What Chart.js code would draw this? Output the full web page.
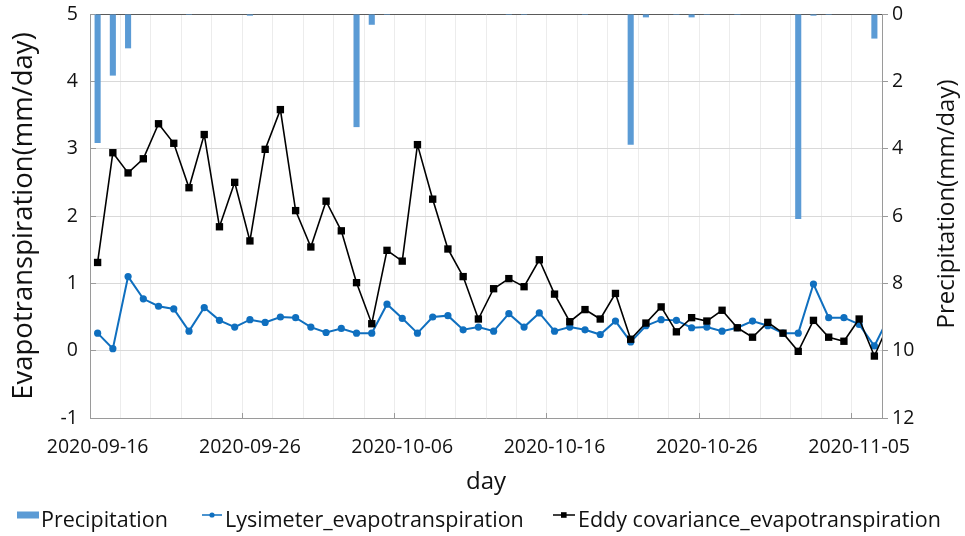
<!DOCTYPE html>
<html>
<head>
<meta charset="utf-8">
<script src="https://cdn.jsdelivr.net/npm/chart.js@4.4.1/dist/chart.umd.min.js"></script>
<style>
html,body{margin:0;padding:0;background:#ffffff;}
#wrap{position:relative;width:965px;height:536px;}
</style>
</head>
<body>
<div id="wrap"><canvas id="c" width="965" height="536"></canvas></div>
<script>
// ---- data ----
const days = [
  '2020-09-16','2020-09-17','2020-09-18','2020-09-19','2020-09-20','2020-09-21','2020-09-22','2020-09-23','2020-09-24','2020-09-25',
  '2020-09-26','2020-09-27','2020-09-28','2020-09-29','2020-09-30','2020-10-01','2020-10-02','2020-10-03','2020-10-04','2020-10-05',
  '2020-10-06','2020-10-07','2020-10-08','2020-10-09','2020-10-10','2020-10-11','2020-10-12','2020-10-13','2020-10-14','2020-10-15',
  '2020-10-16','2020-10-17','2020-10-18','2020-10-19','2020-10-20','2020-10-21','2020-10-22','2020-10-23','2020-10-24','2020-10-25',
  '2020-10-26','2020-10-27','2020-10-28','2020-10-29','2020-10-30','2020-10-31','2020-11-01','2020-11-02','2020-11-03','2020-11-04',
  '2020-11-05','2020-11-06','2020-11-07'
];
const tickLabels = ['2020-09-16','2020-09-26','2020-10-06','2020-10-16','2020-10-26','2020-11-05'];

const precipitation = [
  3.83, 1.83, 1.02, 0, 0, 0, 0.03, 0, 0, 0,
  0.05, 0, 0, 0, 0, 0, 0, 3.36, 0.32, 0.03,
  0, 0, 0, 0, 0, 0, 0, 0.03, 0.03, 0,
  0, 0, 0.03, 0, 0, 3.88, 0.10, 0, 0.03, 0.10,
  0.03, 0, 0.03, 0, 0, 0, 6.09, 0.05, 0.03, 0,
  0, 0.73, 0
];
const lysimeter = [
  0.26, 0.03, 1.10, 0.77, 0.66, 0.62, 0.29, 0.64, 0.45, 0.35,
  0.46, 0.42, 0.50, 0.49, 0.35, 0.27, 0.33, 0.26, 0.26, 0.69,
  0.48, 0.26, 0.50, 0.52, 0.31, 0.35, 0.29, 0.55, 0.35, 0.56,
  0.29, 0.35, 0.31, 0.24, 0.44, 0.13, 0.37, 0.46, 0.45, 0.34,
  0.35, 0.29, 0.34, 0.44, 0.37, 0.26, 0.26, 0.99, 0.49, 0.49,
  0.39, 0.07, 0.52
];
const eddy = [
  1.31, 2.94, 2.64, 2.85, 3.37, 3.08, 2.42, 3.21, 1.84, 2.50,
  1.63, 2.99, 3.58, 2.08, 1.54, 2.22, 1.78, 1.01, 0.40, 1.49,
  1.33, 3.06, 2.25, 1.51, 1.10, 0.47, 0.92, 1.07, 0.95, 1.35,
  0.84, 0.43, 0.61, 0.47, 0.85, 0.17, 0.41, 0.65, 0.28, 0.49,
  0.44, 0.60, 0.34, 0.20, 0.42, 0.26, -0.01, 0.45, 0.20, 0.14,
  0.47, -0.08, 0.43
];
const seriesNames = ['Precipitation', 'Lysimeter_evapotranspiration', 'Eddy covariance_evapotranspiration'];
const leftTitle = 'Evapotranspiration(mm/day)';
const rightTitle = 'Precipitation(mm/day)';
const xTitle = 'day';

// ---- styles ----
const FONT = '"Open Sans", "Noto Sans", sans-serif';
const TXT = '#111111';
const BAR_COLOR = '#5B9BD5';
const LYS_COLOR = '#0F6FBF';
const EDDY_COLOR = '#000000';
const AXIS_COLOR = '#9a9a9a';

const toPoints = arr => arr.map((v, i) => ({x: i, y: v}));

const customDraw = {
  id: 'customDraw',
  afterDraw(chart) {
    const ctx = chart.ctx;
    // right axis title (reads bottom-to-top)
    ctx.save();
    ctx.font = '24px ' + FONT;
    ctx.fillStyle = TXT;
    ctx.textAlign = 'center';
    ctx.textBaseline = 'middle';
    ctx.translate(947, 204);
    ctx.rotate(-Math.PI / 2);
    ctx.fillText(rightTitle, 0, 0);
    ctx.restore();

    // legend
    ctx.save();
    ctx.font = '21.5px ' + FONT;
    ctx.textAlign = 'left';
    ctx.textBaseline = 'middle';
    const ty = 521, my = 515;
    // precipitation
    ctx.fillStyle = BAR_COLOR;
    ctx.fillRect(17, my - 3.5, 22, 7);
    ctx.fillStyle = TXT;
    ctx.fillText(seriesNames[0], 41, ty);
    // lysimeter
    ctx.strokeStyle = LYS_COLOR; ctx.lineWidth = 1.5;
    ctx.beginPath(); ctx.moveTo(202, my); ctx.lineTo(222, my); ctx.stroke();
    ctx.fillStyle = LYS_COLOR;
    ctx.beginPath(); ctx.arc(212, my, 2.6, 0, Math.PI * 2); ctx.fill();
    ctx.fillStyle = TXT;
    ctx.fillText(seriesNames[1], 225, ty);
    // eddy
    ctx.strokeStyle = EDDY_COLOR; ctx.lineWidth = 1.5;
    ctx.beginPath(); ctx.moveTo(553, my); ctx.lineTo(575, my); ctx.stroke();
    ctx.fillStyle = EDDY_COLOR;
    ctx.fillRect(561, my - 2.8, 5.6, 5.6);
    ctx.fillStyle = TXT;
    ctx.fillText(seriesNames[2], 578, ty);
    ctx.restore();
  }
};

const xTickValues = [];
for (let k = 0; k <= 52; k += 2) xTickValues.push(k - 0.5);

const fixVertical = w => s => { s.width = w; s.paddingTop = 0; s.paddingBottom = 0; };

new Chart(document.getElementById('c'), {
  type: 'line',
  data: {
    datasets: [
      {
        type: 'bar',
        label: seriesNames[0],
        data: toPoints(precipitation),
        yAxisID: 'y2',
        backgroundColor: BAR_COLOR,
        borderWidth: 0,
        barPercentage: 0.5,
        categoryPercentage: 0.8,
        order: 3
      },
      {
        type: 'line',
        label: seriesNames[1],
        data: toPoints(lysimeter),
        yAxisID: 'y',
        borderColor: LYS_COLOR,
        backgroundColor: LYS_COLOR,
        borderWidth: 2,
        pointRadius: 3.6,
        pointBorderWidth: 0,
        pointBackgroundColor: LYS_COLOR,
        tension: 0,
        clip: 0,
        order: 2
      },
      {
        type: 'line',
        label: seriesNames[2],
        data: toPoints(eddy),
        yAxisID: 'y',
        borderColor: EDDY_COLOR,
        backgroundColor: EDDY_COLOR,
        borderWidth: 1.6,
        pointStyle: 'rect',
        pointRadius: 5.2,
        pointBorderWidth: 0,
        pointBackgroundColor: EDDY_COLOR,
        tension: 0,
        clip: 0,
        order: 1
      }
    ]
  },
  options: {
    responsive: false,
    animation: false,
    devicePixelRatio: 1,
    layout: {padding: {left: 0, right: 0, top: 14, bottom: 0}},
    plugins: {legend: {display: false}, tooltip: {enabled: false}},
    font: {family: FONT},
    scales: {
      x: {
        type: 'linear',
        position: 'bottom',
        min: -0.5,
        max: 51.5,
        offset: false,
        afterBuildTicks: s => { s.ticks = xTickValues.map(v => ({value: v})); },
        afterFit: s => { s.height = 118; },
        ticks: {
          autoSkip: false,
          maxRotation: 0,
          minRotation: 0,
          labelOffset: 7.6,
          padding: 23,
          color: TXT,
          font: {family: FONT, size: 19.5},
          callback: v => {
            const d = days[Math.round(v + 0.5)];
            return tickLabels.includes(d) ? d : '';
          }
        },
        grid: {
          offset: false,
          color: c => {
            const v = c.tick ? c.tick.value : null;
            if (v === -0.5 || v === 51.5) return 'rgba(0,0,0,0)';
            return '#ececec';
          },
          drawTicks: true,
          tickLength: -5,
          tickColor: c => {
            const v = c.tick ? c.tick.value : 0;
            return (Math.round(v + 0.5) % 10 === 0) ? AXIS_COLOR : 'rgba(0,0,0,0)';
          }
        },
        border: {color: AXIS_COLOR, width: 1},
        title: {
          display: true, text: xTitle, color: TXT,
          font: {family: FONT, size: 24},
          padding: {top: 0, bottom: 39}
        }
      },
      y: {
        position: 'left',
        min: -1,
        max: 5,
        afterFit: fixVertical(90),
        ticks: {stepSize: 1, padding: 18, color: TXT, font: {family: FONT, size: 19.5}},
        grid: {
          color: c => {
            const v = c.tick ? c.tick.value : null;
            if (v === 5) return '#5a5a5a';
            if (v === -1) return 'rgba(0,0,0,0)';
            return '#d9d9d9';
          },
          drawTicks: true,
          tickLength: -6,
          tickColor: AXIS_COLOR
        },
        border: {color: AXIS_COLOR, width: 1},
        title: {
          display: true, text: leftTitle, color: TXT,
          font: {family: FONT, size: 27.5},
          padding: {top: 8, bottom: 0}
        }
      },
      y2: {
        position: 'right',
        min: 0,
        max: 12,
        reverse: true,
        afterFit: fixVertical(83),
        ticks: {stepSize: 2, padding: 4, color: TXT, font: {family: FONT, size: 19.5}},
        grid: {drawOnChartArea: false, drawTicks: true, tickLength: 6, tickColor: AXIS_COLOR},
        border: {color: AXIS_COLOR, width: 1}
      }
    }
  },
  plugins: [customDraw]
});
</script>
</body>
</html>
